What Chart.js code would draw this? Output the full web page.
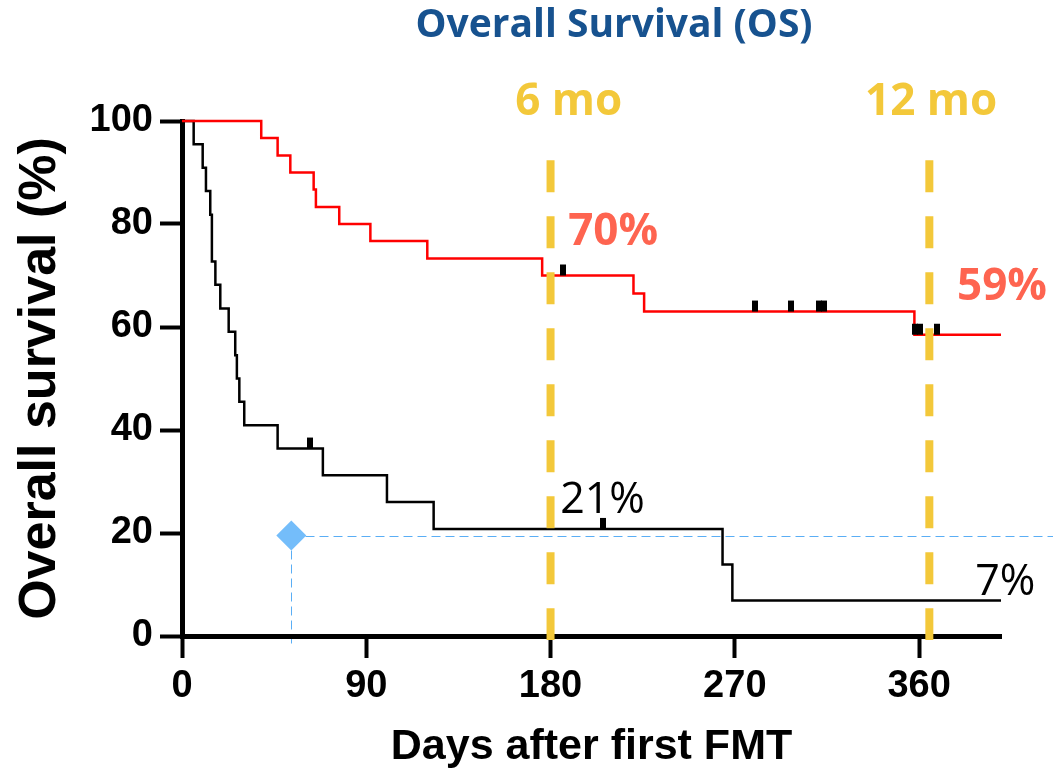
<!DOCTYPE html>
<html>
<head>
<meta charset="utf-8">
<script src="https://cdn.jsdelivr.net/npm/chart.js@4.4.0/dist/chart.umd.min.js"></script>
<style>
html,body{margin:0;padding:0;background:#fff;}
</style>
</head>
<body>
<canvas id="os_chart" width="1053" height="773"></canvas>
<script>
// Kaplan-Meier steps, day of event and survival (%) after it
var fmt_days = [0, 38.7, 46.7, 52.9, 64.3, 65.4, 76.8, 92.0, 119.8, 175.9, 220.5, 225.7, 357.7, 400];
var fmt_surv = [100, 96.7, 93.3, 90.0, 86.7, 83.3, 80.0, 76.7, 73.3, 70.0, 66.5, 63.0, 58.5, 58.5];
var fmt_cens_days = [186.2, 279.9, 297.5, 311.2, 313.5, 357.8, 360.5, 368.6];
var fmt_cens_surv = [70.0, 63.0, 63.0, 63.0, 63.0, 58.5, 58.5, 58.5];

var ctrl_days = [0, 5.7, 10.1, 11.7, 13.8, 14.6, 16.3, 18.7, 22.8, 26.0, 26.8, 28.0, 30.4, 46.7, 68.8, 100.1, 122.9, 264.0, 268.8, 400];
var ctrl_surv = [100, 95.5, 90.9, 86.4, 81.8, 72.7, 68.2, 63.6, 59.1, 54.5, 50.0, 45.5, 40.9, 36.4, 31.2, 26.0, 20.8, 13.9, 6.9, 6.9];
var ctrl_cens_days = [62.6, 205.6];
var ctrl_cens_surv = [36.4, 20.8];

var marker_day = [53.4];
var marker_surv = [19.5];

var x_ticks = [0, 90, 180, 270, 360];
var y_ticks = [0, 20, 40, 60, 80, 100];
var landmark_days = [180, 365];
var landmark_labels = ['6 mo', '12 mo'];
var fmt_pct_labels = ['70%', '59%'];
var ctrl_pct_labels = ['21%', '7%'];

function pts(xs, ys) {
  return xs.map(function(d, i) { return {x: d, y: ys[i]}; });
}

// small censor tick drawn above the curve
var censor_mark = document.createElement('canvas');
censor_mark.width = 6;
censor_mark.height = 24;
var cm = censor_mark.getContext('2d');
cm.fillStyle = '#000';
cm.fillRect(0, 1, 6, 11);

var arial = '"Liberation Sans", Arial, sans-serif';
var sans = '"Open Sans", "Noto Sans", sans-serif';

var overlay = {
  id: 'overlay',
  beforeDraw: function(chart) {
    var c = chart.ctx, xs = chart.scales.x, ys = chart.scales.y;
    var px = Math.round(xs.getPixelForValue(marker_day[0])) + 0.5;
    var py = Math.round(ys.getPixelForValue(marker_surv[0])) + 0.5;
    c.save();
    c.strokeStyle = '#5aaef5';
    c.lineWidth = 1;
    c.setLineDash([9, 5]);
    c.beginPath();
    c.moveTo(px, py);
    c.lineTo(chart.width, py);
    c.moveTo(px, py);
    c.lineTo(px, ys.getPixelForValue(0) + 10);
    c.stroke();
    c.restore();
  },
  afterDraw: function(chart) {
    var c = chart.ctx, xs = chart.scales.x, ys = chart.scales.y;
    c.save();
    // landmark lines
    c.strokeStyle = '#f3c83a';
    c.lineWidth = 8;
    c.setLineDash([32, 24]);
    landmark_days.forEach(function(d) {
      var x = xs.getPixelForValue(d);
      c.beginPath();
      c.moveTo(x, ys.getPixelForValue(92.4));
      c.lineTo(x, ys.getPixelForValue(0) + 4);
      c.stroke();
    });
    c.setLineDash([]);
    c.textAlign = 'left';
    c.textBaseline = 'alphabetic';
    function txt(s, day, surv, font, color) {
      c.font = font;
      c.fillStyle = color;
      c.fillText(s, xs.getPixelForValue(day), ys.getPixelForValue(surv));
    }
    txt(landmark_labels[0], 162.7, 101.2, 'bold 44px ' + sans, '#f3c83a');
    txt(landmark_labels[1], 333.6, 101.2, 'bold 44px ' + sans, '#f3c83a');
    txt(fmt_pct_labels[0], 188.6, 75.9, 'bold 44px ' + sans, '#fe6450');
    txt(fmt_pct_labels[1], 378.5, 65.2, 'bold 44px ' + sans, '#fe6450');
    txt(ctrl_pct_labels[0], 184.7, 23.9, '43px ' + sans, '#000');
    txt(ctrl_pct_labels[1], 387.4, 8.0, '43px ' + sans, '#000');
    // chart title
    c.textAlign = 'center';
    c.font = 'bold 39px ' + sans;
    c.fillStyle = '#17528f';
    c.fillText('Overall Survival (OS)', xs.getPixelForValue(211), ys.getPixelForValue(116.3));
    c.restore();
  }
};

let os_chart = new Chart(document.querySelector('#os_chart').getContext('2d'), {
  type: 'line',
  data: {
    datasets: [{
      label: 'FMT censored',
      data: pts(fmt_cens_days, fmt_cens_surv),
      showLine: false,
      pointStyle: censor_mark,
      pointRadius: 12,
      order: 0
    }, {
      label: 'Control censored',
      data: pts(ctrl_cens_days, ctrl_cens_surv),
      showLine: false,
      pointStyle: censor_mark,
      pointRadius: 12,
      order: 0
    }, {
      label: 'FMT',
      data: pts(fmt_days, fmt_surv),
      borderColor: '#ff0000',
      borderWidth: 2.5,
      stepped: 'before',
      pointRadius: 0,
      fill: false,
      order: 1
    }, {
      label: 'Control',
      data: pts(ctrl_days, ctrl_surv),
      borderColor: '#000000',
      borderWidth: 2.5,
      stepped: 'before',
      pointRadius: 0,
      fill: false,
      order: 2
    }, {
      label: 'Marker',
      data: pts(marker_day, marker_surv),
      showLine: false,
      pointStyle: 'rectRot',
      pointRadius: 15,
      pointBackgroundColor: '#74bdfa',
      pointBorderWidth: 0,
      order: 0
    }]
  },
  options: {
    responsive: false,
    animation: false,
    clip: false,
    layout: {padding: {left: 0, right: 52, top: 121, bottom: 0}},
    plugins: {
      legend: {display: false},
      tooltip: {enabled: false}
    },
    scales: {
      x: {
        type: 'linear',
        min: 0,
        max: 400,
        afterBuildTicks: function(s) { s.ticks = x_ticks.map(function(v) { return {value: v}; }); },
        afterFit: function(s) { s.height = 137; },
        grid: {drawOnChartArea: false, drawTicks: true, tickLength: 22, tickWidth: 4, tickColor: '#000'},
        border: {display: true, width: 5, color: '#000'},
        ticks: {color: '#000', padding: 6, maxRotation: 0, autoSkip: false,
          font: {family: arial, size: 38, weight: 'bold'}},
        title: {display: true, text: 'Days after first FMT', color: '#000',
          font: {family: arial, size: 43, weight: 'bold', lineHeight: 1}, padding: {top: 0, bottom: 4}}
      },
      y: {
        min: 0,
        max: 100,
        afterBuildTicks: function(s) { s.ticks = y_ticks.map(function(v) { return {value: v}; }); },
        afterFit: function(s) { s.width = 182; },
        grid: {drawOnChartArea: false, drawTicks: true, tickLength: 22, tickWidth: 4, tickColor: '#000'},
        border: {display: true, width: 5, color: '#000'},
        ticks: {color: '#000', padding: 7,
          font: {family: arial, size: 38, weight: 'bold'}},
        title: {display: true, text: 'Overall survival (%)', color: '#000',
          font: {family: arial, size: 52, weight: 'bold', lineHeight: 1}, padding: {top: 15, bottom: 0}}
      }
    }
  },
  plugins: [overlay]
});
</script>
</body>
</html>
